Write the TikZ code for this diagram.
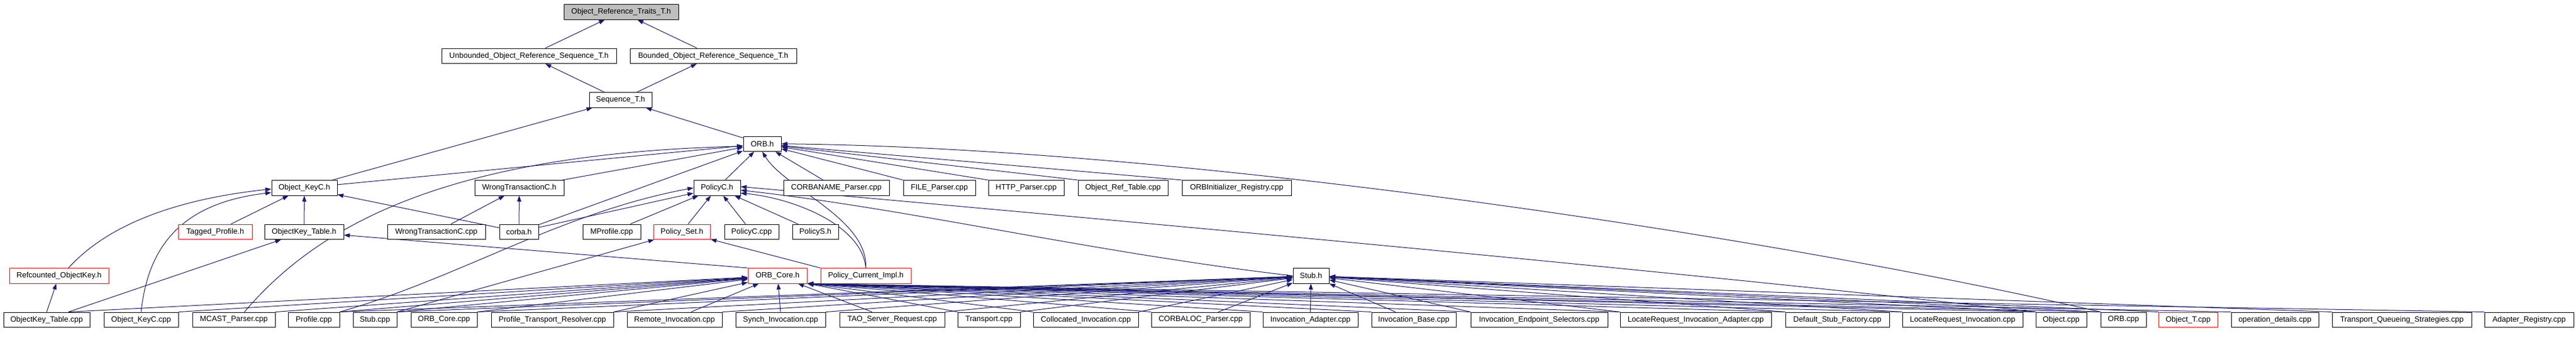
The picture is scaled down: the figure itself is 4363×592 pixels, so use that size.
\documentclass[tikz,border=0pt]{standalone}
\usepackage{fontspec}
\setmainfont{Liberation Sans}
\usetikzlibrary{arrows.meta,calc}
\definecolor{edgeblue}{HTML}{191970}
\definecolor{rootgray}{HTML}{BFBFBF}
\pgfdeclarelayer{edgelayer}
\pgfsetlayers{edgelayer,main}
\begin{document}
\begin{tikzpicture}[x=1pt,y=-1pt,
  box/.style={draw=black,line width=1pt,fill=white,minimum height=25.5pt,inner sep=0pt,font=\fontsize{13}{15}\selectfont},
  redbox/.style={box,draw=red},
  rootbox/.style={box,fill=rootgray},
  edge/.style={draw=edgeblue,line width=1pt,-{Triangle[length=10pt,width=7pt]}}]
\useasboundingbox (0,0) rectangle (4363,592);
% rank 0
\node[rootbox,minimum width=194pt] (traits) at (1052,20.25) {Object\_Reference\_Traits\_T.h};
% rank 1
\node[box,minimum width=296pt] (unb) at (896,94.75) {Unbounded\_Object\_Reference\_Sequence\_T.h};
\node[box,minimum width=282pt] (bnd) at (1208,94.75) {Bounded\_Object\_Reference\_Sequence\_T.h};
% rank 2
\node[box,minimum width=106pt] (seq) at (1051,169.25) {Sequence\_T.h};
% rank 3
\node[box,minimum width=64pt] (orbh) at (1291,243.75) {ORB.h};
% rank 4
\node[box,minimum width=111pt] (okch) at (515.5,318.25) {Object\_KeyC.h};
\node[box,minimum width=151pt] (wtch) at (879.5,318.25) {WrongTransactionC.h};
\node[box,minimum width=79pt] (polch) at (1214.5,318.25) {PolicyC.h};
\node[box,minimum width=179pt] (cnp) at (1416.5,318.25) {CORBANAME\_Parser.cpp};
\node[box,minimum width=122pt] (fip) at (1591,318.25) {FILE\_Parser.cpp};
\node[box,minimum width=128pt] (htp) at (1738,318.25) {HTTP\_Parser.cpp};
\node[box,minimum width=152pt] (ort) at (1902,318.25) {Object\_Ref\_Table.cpp};
\node[box,minimum width=185pt] (oir) at (2094.5,318.25) {ORBInitializer\_Registry.cpp};
% rank 5
\node[redbox,minimum width=125pt] (tph) at (364.5,392.75) {Tagged\_Profile.h};
\node[box,minimum width=134pt] (okth) at (515,392.75) {ObjectKey\_Table.h};
\node[box,minimum width=166pt] (wtcc) at (739,392.75) {WrongTransactionC.cpp};
\node[box,minimum width=66pt] (corba) at (879,392.75) {corba.h};
\node[box,minimum width=98pt] (mprof) at (1036,392.75) {MProfile.cpp};
\node[redbox,minimum width=96pt] (pset) at (1155,392.75) {Policy\_Set.h};
\node[box,minimum width=92pt] (polcc) at (1273,392.75) {PolicyC.cpp};
\node[box,minimum width=78pt] (polsh) at (1381,392.75) {PolicyS.h};
% rank 6
\node[redbox,minimum width=168pt] (refok) at (100,467.25) {Refcounted\_ObjectKey.h};
\node[redbox,minimum width=100pt] (orbcoreh) at (1317,467.25) {ORB\_Core.h};
\node[redbox,minimum width=153pt] (pci) at (1466.5,467.25) {Policy\_Current\_Impl.h};
\node[box,minimum width=61pt] (stubh) at (2220.5,467.25) {Stub.h};
% rank 7
\node[box,minimum width=146pt] (oktcpp) at (79,541.75) {ObjectKey\_Table.cpp};
\node[box,minimum width=126pt] (okccpp) at (239,541.75) {Object\_KeyC.cpp};
\node[box,minimum width=140pt] (mcast) at (396,541.75) {MCAST\_Parser.cpp};
\node[box,minimum width=87pt] (profcpp) at (531.5,541.75) {Profile.cpp};
\node[box,minimum width=74pt] (stubcpp) at (635,541.75) {Stub.cpp};
\node[box,minimum width=112pt] (orbcorecpp) at (752,541.75) {ORB\_Core.cpp};
\node[box,minimum width=207pt] (ptr) at (935.5,541.75) {Profile\_Transport\_Resolver.cpp};
\node[box,minimum width=161pt] (remote) at (1142.5,541.75) {Remote\_Invocation.cpp};
\node[box,minimum width=152pt] (synch) at (1322,541.75) {Synch\_Invocation.cpp};
\node[box,minimum width=178pt] (tsr) at (1511,541.75) {TAO\_Server\_Request.cpp};
\node[box,minimum width=106pt] (transport) at (1675,541.75) {Transport.cpp};
\node[box,minimum width=178pt] (colloc) at (1839,541.75) {Collocated\_Invocation.cpp};
\node[box,minimum width=167pt] (corbaloc) at (2033.5,541.75) {CORBALOC\_Parser.cpp};
\node[box,minimum width=161pt] (invad) at (2219.5,541.75) {Invocation\_Adapter.cpp};
\node[box,minimum width=143pt] (invbase) at (2394.5,541.75) {Invocation\_Base.cpp};
\node[box,minimum width=232pt] (ies) at (2607,541.75) {Invocation\_Endpoint\_Selectors.cpp};
\node[box,minimum width=256pt] (lria) at (2872,541.75) {LocateRequest\_Invocation\_Adapter.cpp};
\node[box,minimum width=176pt] (dsf) at (3112,541.75) {Default\_Stub\_Factory.cpp};
\node[box,minimum width=204pt] (lri) at (3324,541.75) {LocateRequest\_Invocation.cpp};
\node[box,minimum width=86pt] (objcpp) at (3491,541.75) {Object.cpp};
\node[box,minimum width=77pt] (orbcpp) at (3596.5,541.75) {ORB.cpp};
\node[redbox,minimum width=100pt] (objt) at (3706,541.75) {Object\_T.cpp};
\node[box,minimum width=148pt] (opdet) at (3853,541.75) {operation\_details.cpp};
\node[box,minimum width=236pt] (tqs) at (4068,541.75) {Transport\_Queueing\_Strategies.cpp};
\node[box,minimum width=151pt] (adreg) at (4283.5,541.75) {Adapter\_Registry.cpp};

\begin{pgfonlayer}{edgelayer}
% ---- edges: top part
\draw[edge] (unb) -- (traits);
\draw[edge] (bnd) -- (traits);
\draw[edge] (seq) -- (unb);
\draw[edge] (seq) -- (bnd);
\draw[edge] (okch) -- (seq);
\draw[edge] (orbh) -- (seq);
% into ORB.h
\draw[edge] (okch) -- (orbh);
\draw[edge] (wtch) -- (orbh);
\draw[edge] (corba) -- (orbh);
\draw[edge] (polch) -- (orbh);
\draw[edge] (cnp) -- (orbh);
\draw[edge] (fip.north west) -- (orbh);
\draw[edge] (htp.north west) -- (orbh);
\draw[edge] (ort.north west) -- (orbh);
\draw[edge] (oir.north west) -- (orbh);
\draw[edge] ([xshift=18pt]mcast.north) .. controls (540,380) and (760,260) .. ([yshift=-4pt]orbh.west);
\draw[edge] (pci.north) .. controls (1470,370) and (1330,320) .. (orbh.south);
\draw[edge] (orbcpp.north west) .. controls (3000,400) and (2000,250) .. (orbh.east);
% into Object_KeyC.h
\draw[edge] ([xshift=16pt]refok.north) .. controls (190,372) and (320,335) .. ([yshift=-2pt]okch.west);
\draw[edge] (okccpp.north) .. controls (250,425) and (300,345) .. ([yshift=-8pt]okch.west);
\draw[edge] (tph) -- (okch);
\draw[edge] (okth) -- (okch);
\draw[edge] (corba) -- (okch);
% into WrongTransactionC.h
\draw[edge] (wtcc) -- (wtch);
\draw[edge] (corba) -- (wtch);
% into PolicyC.h
\draw[edge] (corba) -- (polch);
\draw[edge] (profcpp.north east) .. controls (780,470) and (950,360) .. (polch.west);
\draw[edge] (mprof) -- (polch);
\draw[edge] (pset) -- (polch);
\draw[edge] (polcc) -- (polch);
\draw[edge] (polsh) -- (polch);
\draw[edge] (pci.north) .. controls (1460,380) and (1340,335) .. ([yshift=-9pt]polch.east);
\draw[edge] (stubh.west) .. controls (1850,428) and (1550,355) .. ([yshift=-4pt]polch.east);
\draw[edge] (objcpp.north west) .. controls (2800,455) and (1800,365) .. ([yshift=2pt]polch.east);
% into Policy_Set.h
\draw[edge] (stubcpp.north east) -- (pset);
\draw[edge] (pci.north west) -- (pset);
% into ObjectKey_Table.h and Refcounted_ObjectKey.h
\draw[edge] (orbcoreh.north west) -- (okth);
\draw[edge] ([xshift=37pt]oktcpp.north) -- (okth);
\draw[edge] (oktcpp.north) -- (refok);
% into ORB_Core.h
\draw[edge] ([xshift=37pt]oktcpp.north) -- (orbcoreh);
\foreach \s in {okccpp,mcast,profcpp,stubcpp,orbcorecpp,ptr}
  \draw[edge] (\s.north east) -- (orbcoreh);
\draw[edge] ([xshift=28pt]remote.north) -- (orbcoreh);
\draw[edge] (synch.north) -- (orbcoreh);
\draw[edge] ([xshift=-34pt]tsr.north) -- (orbcoreh);
\foreach \s in {transport,colloc,corbaloc,invad,invbase,ies,lria,dsf,lri,objcpp,orbcpp,opdet,adreg}
  \draw[edge] (\s.north west) -- (orbcoreh.south east);
% into Stub.h
\foreach \s in {profcpp,stubcpp,orbcorecpp,ptr,remote,synch,tsr,transport,colloc}
  \draw[edge] (\s.north east) -- (stubh);
\draw[edge] ([xshift=30pt]corbaloc.north) -- (stubh);
\draw[edge] (invad.north) -- (stubh);
\draw[edge] ([xshift=-31pt]invbase.north) -- (stubh);
\foreach \s in {ies,lria,dsf,lri,objcpp,orbcpp,objt,tqs}
  \draw[edge] (\s.north west) -- (stubh);
\end{pgfonlayer}
\end{tikzpicture}
\end{document}
